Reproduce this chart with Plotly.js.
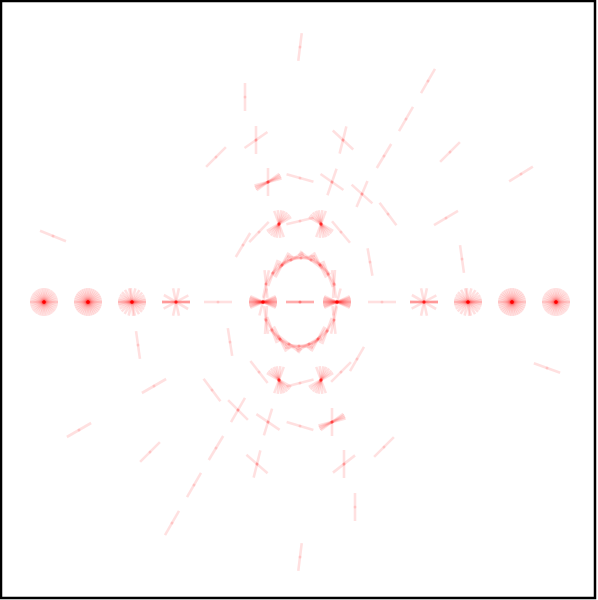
<!DOCTYPE html>
<html>
<head>
<meta charset="utf-8">
<script src="https://cdn.plot.ly/plotly-3.0.1.min.js"></script>
<style>
  html, body { margin: 0; padding: 0; background: #ffffff; }
  #chart { width: 598px; height: 600px; }
</style>
</head>
<body>
<div id="chart"></div>
<script>
// Segment centres (pixel-like data units, y grows downward) and orientation angles in degrees
const fullRing24 = [0, 0, 11, 22, 34, 45, 56, 68, 79, 90, 101, 113, 124, 135, 146, 158, 169];
const fullRing26 = [0, 0, 10, 20, 30, 40, 50, 60, 70, 80, 90, 100, 110, 120, 130, 140, 150, 160, 170];
const wideFan = [0, 0, 7, -7, 16, -17, 28, -30, 42, -44, 58, -60, 76, -78, 95];
const crossFan = [0, 0, 2, -2, 78, 102, 28, -30];
const bowtie = [0, 0, 4, -4, 9, -9, 14, -14, 19, -19, 25, -25, 75];
const fanLow = [30, 42, 55, 68, 80, 95, 110];
const fanHigh = [70, 85, 100, 112, 125, 138, 150];
const sideFan = [90, 15, 22, 29, 36];

const centerX = [
  300, 300, 245, 355, 428, 172, 406, 194, 384, 216, 450, 150,
  521, 79, 446, 154, 462, 138, 53, 547, 256, 344, 343, 257,
  216, 384, 268, 332, 300, 300, 332, 268, 362, 238, 388, 212,
  279, 321, 321, 279, 300, 300, 259, 341, 341, 259, 243, 357,
  370, 230,
  266, 334, 273, 327, 282, 318, 291, 309, 301, 299, 311, 289,
  320, 280, 328, 272, 334, 266,
  44, 88, 132, 176, 218, 263, 300, 337, 382, 424, 468, 512, 556
];
const centerY = [
  47, 557, 97, 507, 81, 523, 119, 485, 156, 448, 152, 452,
  174, 430, 218, 386, 259, 345, 236, 368, 140, 464, 140, 464,
  157, 447, 182, 422, 178, 426, 182, 422, 194, 410, 214, 390,
  224, 380, 224, 380, 221, 383, 232, 372, 232, 372, 245, 359,
  262, 342,
  284, 320, 273, 331, 265, 339, 260, 344, 258, 346, 260, 344,
  265, 339, 274, 330, 284, 320
  ,
  302, 302, 302, 302, 302, 302, 302, 302, 302, 302, 302, 302, 302
];
const angleSets = [
  [83], [83], [90], [90], [60], [60], [60], [60], [59], [59], [45], [45],
  [32], [30], [31], [30], [98], [98], [-22], [-20], [90, 35], [90, 38], [-43, 76], [-41, 76],
  [45], [45], sideFan, sideFan, [-16], [-17], [71, -35], [73, -34], [-42, 67], [-45, 60], [-53], [-53],
  fanLow, fanLow, fanHigh, fanHigh, [13], [14], [46], [45], [-50], [-52], [59], [60],
  [100], [99],
  [96, 78], [96, 78], [70, 58], [70, 58], [52, 40, 62], [52, 40, 62],
  [32, 22], [32, 22], [8, -6], [8, -6], [-26, -38], [-26, -38],
  [-52, -42, -64], [-52, -42, -64], [-70, -58], [-70, -58], [-82, 86], [-82, 86],
  fullRing24, fullRing26, wideFan, crossFan, [0], bowtie, [0, 0, 0], bowtie, [0], crossFan, wideFan, fullRing26, fullRing24
];

const halfLen = 14;
const segColor = 'rgba(255, 0, 0, 0.12)';

const traces = [];
const dotX = [];
const dotY = [];
centerX.forEach((cx, i) => {
  const cy = centerY[i];
  angleSets[i].forEach(deg => {
    const r = deg * Math.PI / 180;
    const dx = halfLen * Math.cos(r);
    const dy = halfLen * Math.sin(r);
    traces.push({
      x: [cx - dx, cx + dx],
      y: [cy + dy, cy - dy],
      type: 'scatter',
      mode: 'lines',
      line: { color: segColor, width: 2.6 },
      hoverinfo: 'skip',
      showlegend: false
    });
    dotX.push(cx);
    dotY.push(cy);
  });
});

// small darker dot at each segment centre
traces.push({
  x: dotX,
  y: dotY,
  type: 'scatter',
  mode: 'markers',
  marker: { color: segColor, size: 3, line: { width: 0 } },
  hoverinfo: 'skip',
  showlegend: false
});

const layout = {
  width: 598,
  height: 600,
  paper_bgcolor: '#ffffff',
  plot_bgcolor: '#ffffff',
  margin: { l: 1, r: 3, t: 1, b: 2, pad: 0 },
  showlegend: false,
  xaxis: { range: [1, 595], visible: false, fixedrange: true },
  yaxis: { range: [598, 1], visible: false, fixedrange: true },
  shapes: [{
    type: 'rect', xref: 'paper', yref: 'paper',
    x0: 0, x1: 1, y0: 0, y1: 1,
    line: { color: '#000000', width: 2.5 }
  }]
};

Plotly.newPlot('chart', traces, layout, { displayModeBar: false, staticPlot: true });
</script>
</body>
</html>
